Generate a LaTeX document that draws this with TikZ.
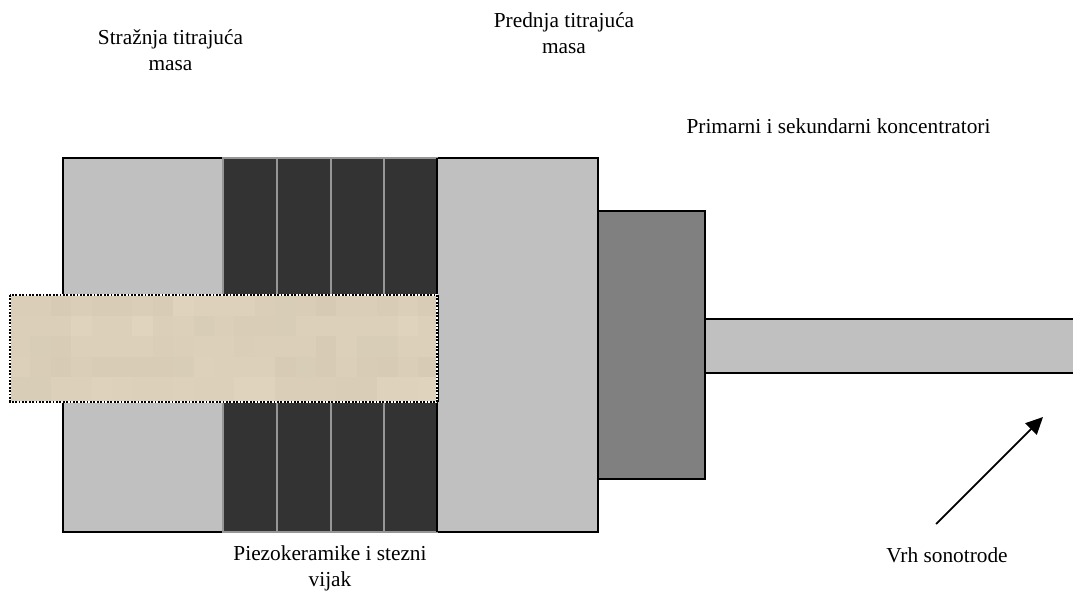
\documentclass[tikz,border=0pt]{standalone}
\usepackage{fontspec}
\setmainfont{Liberation Serif}
\usetikzlibrary{arrows.meta}
\definecolor{massgray}{HTML}{C0C0C0}
\definecolor{piezo}{HTML}{333333}
\definecolor{sep}{HTML}{969696}
\definecolor{conc}{HTML}{808080}
\definecolor{darktile}{HTML}{D5C9B3}
\definecolor{lighttile}{HTML}{E1D5BF}
\tikzset{
  block/.style={anchor=north west,inner sep=0pt,outer sep=0pt,draw=black,line width=2.4pt},
  piezocell/.style={anchor=north west,inner sep=0pt,outer sep=0pt,fill=piezo,draw=sep,line width=2pt},
  lbl/.style={align=center,font=\fontsize{21.33}{26}\selectfont,inner sep=0pt},
  pointer/.style={-{Triangle[length=17pt,width=16pt]},line width=1.8pt,black}
}
\begin{document}
\begin{tikzpicture}[x=1pt,y=-1pt]
\useasboundingbox (0,0) rectangle (1073,590);
\fill[white] (0,0) rectangle (1073,590);
% masses
\node[block,fill=massgray,minimum width=160pt,minimum height=374pt] (rear) at (63,158) {};
\node[block,fill=massgray,minimum width=161pt,minimum height=374pt] (front) at (437,158) {};
\node[block,fill=conc,minimum width=107pt,minimum height=268pt] (primary) at (598,211) {};
\node[block,fill=massgray,minimum width=372pt,minimum height=54pt] (tip) at (705,319) {};
% piezo stack
\node[piezocell,minimum width=54pt,minimum height=374pt] (p1) at (223,158) {};
\node[piezocell,minimum width=54pt,minimum height=374pt] (p2) at (277,158) {};
\node[piezocell,minimum width=53pt,minimum height=374pt] (p3) at (331,158) {};
\node[piezocell,minimum width=53pt,minimum height=374pt] (p4) at (384,158) {};
\draw[black,line width=2.4pt] (front.north west) -- (front.south west);
% bolt: mottled texture (row, shades per column)
\begin{scope}
\clip (10,295) rectangle (437,402);
\foreach \ry/\rh/\vals in {
  295/21/{40,40,20,45,25,25,45,25,85,65,65,70,40,30,35,5,45,40,25,50,25},
  316/20/{50,50,50,80,60,60,90,50,60,30,50,35,35,30,60,60,60,60,60,80,60},
  336/21/{50,30,25,55,55,55,60,40,50,60,55,40,50,50,50,20,55,30,30,55,55},
  357/20/{55,35,15,45,25,25,25,25,30,65,55,60,60,15,30,20,50,25,15,45,20},
  377/25/{30,30,60,60,75,70,60,60,65,60,60,85,85,40,40,45,35,35,75,75,85}}{
  \foreach \shade [count=\c from 0] in \vals {
    \pgfmathsetmacro{\px}{10+\c*20.4}
    \fill[lighttile!\shade!darktile] (\px,\ry) rectangle +(21,\rh+1);
  }
}
\end{scope}
\node[anchor=north west,inner sep=0pt,outer sep=0pt,minimum width=427pt,minimum height=107pt,draw=white,line width=1.8pt] (bolt) at (10,295) {};
\draw[black,line width=1.2pt] ([xshift=1.2pt]bolt.north east) -- ([xshift=1.2pt]bolt.south east);
\draw[black,line width=1.8pt,dash pattern=on 1.8pt off 1.6pt] (bolt.north west) rectangle (bolt.south east);
% arrow
\coordinate (tail) at (936,524);
\coordinate (head) at (1043,417);
\draw[pointer] (tail) -- (head);
% labels
\node[lbl] (l1) at (170.5,50) {Stražnja titrajuća\\masa};
\node[lbl] (l2) at (564,33) {Prednja titrajuća\\masa};
\node[lbl] (l3) at (838.5,126) {Primarni i sekundarni koncentratori};
\node[lbl] (l4) at (330,568.5) {Piezokeramike i stezni\\vijak};
\node[lbl] (l5) at (947,555.5) {Vrh sonotrode};
\end{tikzpicture}
\end{document}
